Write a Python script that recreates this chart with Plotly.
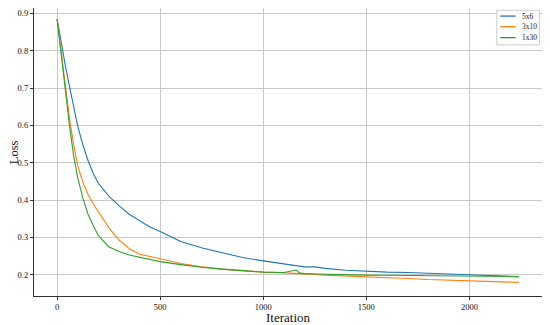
import plotly.graph_objects as go

iterations = [0, 20, 40, 60, 80, 100, 125, 150, 175, 200, 250, 300, 350, 400, 450, 500,
              600, 700, 800, 900, 1000, 1100, 1150, 1160, 1175, 1200, 1250, 1300, 1400,
              1500, 1600, 1700, 1800, 1900, 2000, 2100, 2200, 2240]

loss_5x6 = [0.885, 0.82, 0.76, 0.705, 0.648, 0.598, 0.548, 0.506, 0.472, 0.445, 0.411, 0.385,
            0.362, 0.344, 0.328, 0.316, 0.289, 0.272, 0.258, 0.246, 0.237, 0.228, 0.224, 0.223,
            0.222, 0.221, 0.221, 0.217, 0.212, 0.209, 0.207, 0.206, 0.204, 0.201, 0.199, 0.197,
            0.196, 0.195]

loss_3x10 = [0.885, 0.795, 0.705, 0.62, 0.55, 0.492, 0.448, 0.415, 0.39, 0.37, 0.327, 0.293,
             0.27, 0.255, 0.248, 0.243, 0.23, 0.221, 0.215, 0.211, 0.207, 0.205, 0.204, 0.204,
             0.203, 0.2025, 0.201, 0.199, 0.197, 0.195, 0.192, 0.19, 0.187, 0.185, 0.184, 0.182,
             0.18, 0.1795]

loss_1x30 = [0.885, 0.79, 0.69, 0.6, 0.52, 0.46, 0.405, 0.362, 0.332, 0.305, 0.275, 0.262,
             0.253, 0.247, 0.24, 0.235, 0.227, 0.22, 0.215, 0.21, 0.207, 0.206, 0.211, 0.2125,
             0.205, 0.203, 0.202, 0.201, 0.2, 0.199, 0.1985, 0.198, 0.1975, 0.197, 0.1965, 0.196,
             0.1955, 0.195]

series_names = ["5x6", "3x10", "1x30"]
series_colors = ["#1f77b4", "#ff7f0e", "#2ca02c"]

fig = go.Figure()
for name, vals, col in zip(series_names, [loss_5x6, loss_3x10, loss_1x30], series_colors):
    fig.add_trace(go.Scatter(x=iterations, y=vals, mode="lines", name=name,
                             line=dict(color=col, width=1.1), showlegend=False))

font_family = "Liberation Serif"
axis_common = dict(
    showline=True, linecolor="#333333", linewidth=1.3, mirror=True,
    showgrid=True, gridcolor="#c8c8c8", gridwidth=1,
    ticks="outside", ticklen=3, tickcolor="#333333",
    tickfont=dict(family=font_family, size=8.5, color="#111111"),
    zeroline=False, automargin=False,
)
fig.update_xaxes(range=[-112, 2352], tickvals=[0, 500, 1000, 1500, 2000],
                 title=dict(text="Iteration", font=dict(family=font_family, size=13, color="#111111"), standoff=0),
                 **axis_common)
fig.update_yaxes(range=[0.143, 0.9145], tickvals=[0.2, 0.3, 0.4, 0.5, 0.6, 0.7, 0.8, 0.9],
                 tickformat=".1f", **axis_common)

# y-axis title placed left of the tick labels
fig.add_annotation(xref="paper", yref="paper", x=-0.039, y=0.5, text="Loss", textangle=-90,
                   showarrow=False, xanchor="center", yanchor="middle",
                   font=dict(family=font_family, size=12.5, color="#111111"))

# legend box (top right, drawn in paper coordinates)
fig.add_shape(type="rect", xref="paper", yref="paper", x0=0.911, x1=0.995, y0=0.872, y1=0.992,
              line=dict(color="#cccccc", width=1), fillcolor="rgba(255,255,255,0.9)", layer="above")
legend_rows_y = [0.972, 0.935, 0.897]
for name, col, yy in zip(series_names, series_colors, legend_rows_y):
    fig.add_shape(type="line", xref="paper", yref="paper", x0=0.918, x1=0.948, y0=yy, y1=yy,
                  line=dict(color=col, width=1.3), layer="above")
    fig.add_annotation(xref="paper", yref="paper", x=0.956, y=yy, text=name, showarrow=False,
                       xanchor="left", yanchor="middle",
                       font=dict(family=font_family, size=7.5, color="#222222"))

# page has an 8px body margin, so the figure is sized to fill the 550x325 window
fig.update_layout(
    width=542, height=317,
    margin=dict(l=26, r=8, t=0, b=29),
    plot_bgcolor="white", paper_bgcolor="white",
    showlegend=False,
)
fig.write_html("out.html")
